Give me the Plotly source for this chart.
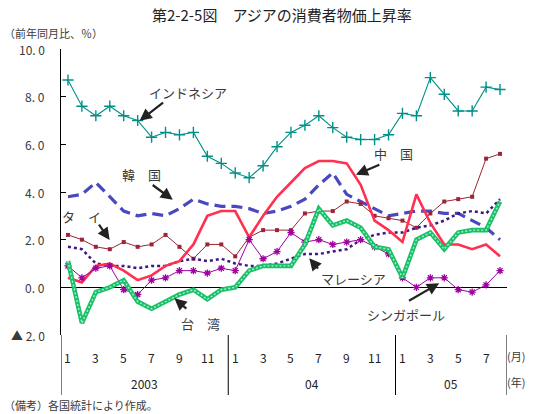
import plotly.graph_objects as go

# ---- data (Jan 2003 .. Aug 2005, monthly, y/y %) ----
months_idx = list(range(32))
month_ticks = [0, 2, 4, 6, 8, 10, 12, 14, 16, 18, 20, 22, 24, 26, 28, 30]
month_labels = ["1", "3", "5", "7", "9", "11", "1", "3", "5", "7", "9", "11", "1", "3", "5", "7"]
year_centers = [5.5, 17.5, 27.5]
year_labels = ["2003", "04", "05"]
y_tick_vals = [10, 8, 6, 4, 2, 0, -2]
y_tick_text = ["10. 0", "8. 0", "6. 0", "4. 0", "2. 0", "0. 0", "▲ 2. 0"]

indonesia = [8.7, 7.6, 7.2, 7.6, 7.2, 7.0, 6.3, 6.5, 6.4, 6.5, 5.5, 5.2,
             4.8, 4.6, 5.1, 5.9, 6.5, 6.8, 7.2, 6.7, 6.3, 6.2, 6.2, 6.4,
             7.3, 7.2, 8.8, 8.1, 7.4, 7.4, 8.4, 8.3]
korea = [3.8, 3.9, 4.4, 3.8, 3.2, 3.0, 3.1, 3.0, 3.3, 3.7, 3.5, 3.4,
         3.4, 3.3, 3.1, 3.2, 3.4, 3.7, 4.3, 4.8, 3.9, 3.6, 3.3, 3.0,
         3.1, 3.2, 3.2, 3.1, 3.1, 2.8, 2.5, 2.0]
china = [0.4, 0.2, 0.9, 1.0, 0.7, 0.3, 0.5, 0.9, 1.1, 1.8, 3.0, 3.2,
         3.2, 2.1, 3.0, 3.8, 4.4, 5.0, 5.3, 5.3, 5.2, 4.3, 2.8, 2.4,
         1.9, 3.9, 2.7, 1.8, 1.8, 1.6, 1.8, 1.3]
thailand = [2.2, 2.0, 1.7, 1.6, 1.9, 1.7, 1.8, 2.2, 1.7, 1.2, 1.8, 1.8,
            1.3, 2.1, 2.4, 2.4, 2.4, 3.1, 3.2, 3.2, 3.6, 3.5, 3.0, 2.9,
            2.8, 2.5, 3.1, 3.6, 3.7, 3.8, 5.4, 5.6]
malaysia = [1.7, 1.6, 1.0, 0.9, 0.9, 0.8, 0.9, 0.9, 1.1, 1.2, 1.1, 1.2,
            1.0, 0.9, 0.9, 1.0, 1.2, 1.4, 1.4, 1.5, 1.6, 2.0, 2.2, 2.3,
            2.3, 2.5, 2.6, 2.8, 3.1, 3.2, 3.1, 3.7]
taiwan = [1.1, -1.5, -0.2, 0.0, 0.3, -0.6, -0.9, -0.6, -0.3, -0.1, -0.5, -0.1,
          0.0, 0.7, 0.9, 0.9, 0.9, 1.8, 3.3, 2.6, 2.8, 2.5, 1.7, 1.6,
          0.4, 2.0, 2.3, 1.6, 2.3, 2.4, 2.4, 3.6]
singapore = [0.9, 0.4, 0.8, 0.9, -0.1, -0.3, 0.3, 0.4, 0.7, 0.7, 0.6, 0.8,
             0.7, 2.0, 1.2, 1.5, 2.3, 1.9, 2.0, 1.8, 1.9, 2.0, 1.7, 1.4,
             0.4, 0.0, 0.4, 0.4, -0.1, -0.2, 0.1, 0.7]

FONT = "Noto Sans CJK JP"
TXT = "#3a3a3a"

fig = go.Figure()

fig.add_trace(go.Scatter(x=months_idx, y=indonesia, mode="lines+markers",
                         line=dict(color="#009088", width=1.1),
                         marker=dict(symbol="cross-thin-open", size=8,
                                     line=dict(color="#008080", width=1.4))))
fig.add_trace(go.Scatter(x=months_idx, y=korea, mode="lines",
                         line=dict(color="#4848c0", width=3.2, dash="11px,6px")))
fig.add_trace(go.Scatter(x=months_idx, y=thailand, mode="lines+markers",
                         line=dict(color="#9b2535", width=1),
                         marker=dict(symbol="square", size=4, color="#9b2535")))
fig.add_trace(go.Scatter(x=months_idx, y=malaysia, mode="lines",
                         line=dict(color="#3c1a80", width=2.5, dash="3px,3px")))
fig.add_trace(go.Scatter(x=months_idx, y=china, mode="lines",
                         line=dict(color="#ff3050", width=2.6)))
fig.add_trace(go.Scatter(x=months_idx, y=singapore, mode="lines+markers",
                         line=dict(color="#a000a0", width=1),
                         marker=dict(symbol="asterisk-open", size=6,
                                     line=dict(color="#a000a0", width=1.3))))
fig.add_trace(go.Scatter(x=months_idx, y=taiwan, mode="lines",
                         line=dict(color="#18c068", width=4.6)))
fig.add_trace(go.Scatter(x=months_idx, y=taiwan, mode="lines",
                         line=dict(color="#a8f0c8", width=1.4, dash="2px,2px")))

L, R, T, B = 61, 507, 49, 335
W, H = R - L, B - T


def py(p):
    return (B - p) / H


def px(p):
    return (p - L) / W


ann = []
# y tick labels
for v, t in zip(y_tick_vals, y_tick_text):
    ann.append(dict(x=px(47), xref="paper", y=v, yref="y", text=t, showarrow=False,
                    xanchor="right", yanchor="middle",
                    font=dict(family=FONT, size=12, color=TXT)))
# month labels
for v, t in zip(month_ticks, month_labels):
    ann.append(dict(x=v, xref="x", y=py(357), yref="paper", text=t, showarrow=False,
                    xanchor="center", yanchor="middle",
                    font=dict(family=FONT, size=12, color="#222222")))
for v, t in zip(year_centers, year_labels):
    ann.append(dict(x=v, xref="x", y=py(383), yref="paper", text=t, showarrow=False,
                    xanchor="center", yanchor="middle",
                    font=dict(family=FONT, size=12, color="#222222")))
ann.append(dict(x=px(505), xref="paper", y=py(356), yref="paper", text="(月)",
                showarrow=False, xanchor="left", yanchor="middle",
                font=dict(family=FONT, size=11, color=TXT)))
ann.append(dict(x=px(505), xref="paper", y=py(382), yref="paper", text="(年)",
                showarrow=False, xanchor="left", yanchor="middle",
                font=dict(family=FONT, size=11, color=TXT)))
# title & notes
ann.append(dict(x=px(282), xref="paper", y=py(14), yref="paper",
                text="第2-2-5図　アジアの消費者物価上昇率", showarrow=False,
                xanchor="center", yanchor="middle",
                font=dict(family=FONT, size=15, color="#222222")))
ann.append(dict(x=px(2), xref="paper", y=py(33), yref="paper",
                text="（前年同月比、％）", showarrow=False,
                xanchor="left", yanchor="middle",
                font=dict(family=FONT, size=11, color=TXT)))
ann.append(dict(x=px(2), xref="paper", y=py(405), yref="paper",
                text="（備考）各国統計により作成。", showarrow=False,
                xanchor="left", yanchor="middle",
                font=dict(family=FONT, size=11, color=TXT)))

# series labels
labels = [("インドネシア", 8.59, 8.17), ("韓　国", 5.28, 4.72), ("タ　イ", 0.98, 2.97),
          ("中　国", 23.33, 5.6), ("マレーシア", 20.46, 0.39), ("台　湾", 9.5, -1.5),
          ("シンガポール", 24.26, -1.12)]
for t, x, y in labels:
    ann.append(dict(x=x, y=y, xref="x", yref="y", text=t, showarrow=False,
                    xanchor="center", yanchor="middle",
                    font=dict(family=FONT, size=13, color=TXT)))
# arrows (tip, tail)
arrows = [((5.14, 6.99), (6.93, 7.80)), ((7.52, 3.67), (5.97, 4.34)),
          ((2.99, 1.99), (2.15, 2.69)), ((20.66, 4.72), (22.45, 5.17)),
          ((17.31, 1.22), (18.03, 0.73)), ((7.64, -0.46), (8.6, -0.95)),
          ((26.63, 0.17), (24.36, -0.6))]
for (tx, ty), (ax_, ay_) in arrows:
    ann.append(dict(x=tx, y=ty, xref="x", yref="y", ax=ax_, ay=ay_, axref="x", ayref="y",
                    text="", showarrow=True, arrowhead=2, arrowsize=1.1, arrowwidth=2.2,
                    arrowcolor="#222222"))

shapes = []
# axis extension and year separators below plot
shapes.append(dict(type="line", xref="x", yref="paper", x0=-0.5, x1=-0.5,
                   y0=0, y1=py(395), line=dict(color="black", width=1)))
for xs in [11.5, 23.5, 31.5]:
    shapes.append(dict(type="line", xref="x", yref="paper", x0=xs, x1=xs,
                       y0=0, y1=py(395), line=dict(color="black", width=1)))

fig.update_layout(
    width=538, height=414,
    margin=dict(l=L, r=538 - R, t=T, b=414 - B),
    paper_bgcolor="white", plot_bgcolor="white",
    showlegend=False,
    annotations=ann, shapes=shapes,
    xaxis=dict(range=[-0.5, 31.5], showgrid=False, zeroline=False,
               showline=False, showticklabels=False, ticks=""),
    yaxis=dict(range=[-2, 10], tickvals=y_tick_vals, showticklabels=False,
               ticks="inside", ticklen=5, tickcolor="black", tickwidth=1,
               showgrid=False, showline=True, linecolor="black", linewidth=1,
               zeroline=True, zerolinecolor="black", zerolinewidth=1.2),
)

fig.write_html("out.html")
